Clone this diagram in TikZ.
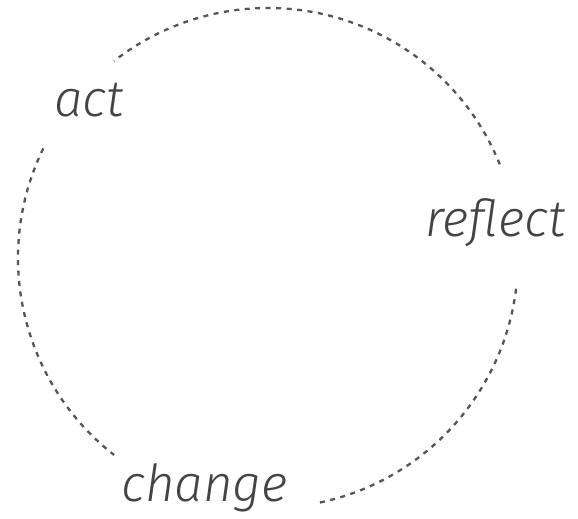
\documentclass[tikz,border=0pt]{standalone}
\usepackage{fontspec}
\setmainfont{Fira Sans}[UprightFont=* Light, ItalicFont=* Light Italic]
\usepackage{xcolor}
\usepackage{tikz}
\definecolor{cycleink}{HTML}{444444}
\definecolor{cycledash}{HTML}{555555}

\begin{document}
\begin{tikzpicture}[x=1pt, y=1pt,
    cyclearc/.style={draw=cycledash, line width=2.3pt, dash pattern=on 5pt off 5.5pt},
    cyclelabel/.style={anchor=base west, inner sep=0pt, text=cycleink, font=\fontsize{51}{51}\selectfont\itshape}]
          \useasboundingbox (0,0) rectangle (578,519);
          \coordinate (hub) at (268,261);
          \node[cyclelabel] (act) at (54,402) {act};
          \node[cyclelabel] (reflect) at (425,282) {reflect};
          \node[cyclelabel] (change) at (121,17) {change};
          \path[cyclearc] (hub) ++(22:250pt) arc[start angle=22, end angle=128, radius=250pt];
          \path[cyclearc] (hub) ++(154:250pt) arc[start angle=154, end angle=232, radius=250pt];
          \path[cyclearc] (hub) ++(-78:250pt) arc[start angle=-78, end angle=-7, radius=250pt];
        \end{tikzpicture}
\end{document}
